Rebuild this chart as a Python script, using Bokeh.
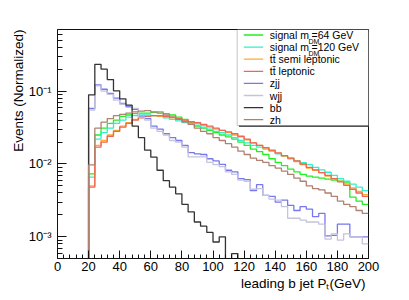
from bokeh.plotting import figure
from bokeh.models import Range1d, FixedTicker, Label, BoxAnnotation, Arrow, Title
from bokeh.embed import file_html
from bokeh.resources import INLINE

# ---------------- data ----------------
bin_edges = list(range(20, 201, 4))          # 45 bins of 4 GeV, 20..200

signal_64 = [0.0073, 0.025, 0.031, 0.036, 0.040, 0.045, 0.047, 0.049, 0.050, 0.050,
             0.051, 0.052, 0.049, 0.047, 0.044, 0.041, 0.037, 0.033, 0.031, 0.029,
             0.027, 0.025, 0.0235, 0.022, 0.020, 0.018, 0.0160, 0.0148, 0.0135, 0.0118,
             0.0105, 0.0095, 0.0085, 0.0078, 0.0072, 0.0068, 0.0066, 0.0064, 0.0062, 0.0060,
             0.0058, 0.0055, 0.0035, 0.0031, 0.0028]
signal_120 = [0.0066, 0.022, 0.027, 0.031, 0.036, 0.040, 0.044, 0.046, 0.047, 0.047,
              0.046, 0.045, 0.043, 0.041, 0.039, 0.037, 0.036, 0.034, 0.032, 0.030,
              0.028, 0.027, 0.025, 0.023, 0.021, 0.0195, 0.018, 0.017, 0.016, 0.015,
              0.0138, 0.0128, 0.0120, 0.0110, 0.0104, 0.0098, 0.0090, 0.0083, 0.0077, 0.0070,
              0.0063, 0.0058, 0.0053, 0.0048, 0.0043]
tt_semi = [0.0050, 0.018, 0.021, 0.025, 0.029, 0.033, 0.037, 0.041, 0.044, 0.045,
           0.046, 0.045, 0.044, 0.043, 0.042, 0.040, 0.038, 0.036, 0.034, 0.032,
           0.030, 0.029, 0.027, 0.025, 0.0235, 0.0215, 0.0195, 0.018, 0.0165, 0.0152,
           0.0140, 0.0128, 0.0118, 0.0108, 0.0098, 0.0088, 0.0082, 0.0076, 0.0068, 0.0062,
           0.0058, 0.0053, 0.0047, 0.0042, 0.0038]
tt_lep = [0.0048, 0.017, 0.020, 0.024, 0.028, 0.032, 0.036, 0.040, 0.043, 0.045,
          0.046, 0.046, 0.045, 0.044, 0.042, 0.040, 0.038, 0.037, 0.035, 0.033,
          0.031, 0.029, 0.0275, 0.026, 0.024, 0.022, 0.0195, 0.018, 0.0168, 0.0155,
          0.0142, 0.0130, 0.0120, 0.0110, 0.0100, 0.0090, 0.0083, 0.0076, 0.0070, 0.0063,
          0.0057, 0.0051, 0.0045, 0.0040, 0.0036]
zjj = [0.058, 0.122, 0.106, 0.093, 0.080, 0.068, 0.061, 0.056, 0.045, 0.042,
       0.033, 0.030, 0.026, 0.023, 0.021, 0.018, 0.0143, 0.0138, 0.0135, 0.0118,
       0.0110, 0.0099, 0.0082, 0.0078, 0.0063, 0.0061, 0.0043, 0.0052, 0.0037, 0.0036,
       0.0030, 0.0032, 0.0027, 0.0023, 0.0026, 0.0024, 0.0019, 0.0021, 0.00103, 0.00105,
       0.0015, 0.0015, 0.0010, 0.0010, 0.0010]
wjj = [0.055, 0.118, 0.100, 0.090, 0.075, 0.066, 0.063, 0.058, 0.044, 0.040,
       0.031, 0.028, 0.025, 0.021, 0.020, 0.017, 0.0125, 0.0125, 0.0125, 0.0105,
       0.0098, 0.0092, 0.0078, 0.0072, 0.0060, 0.0058, 0.0045, 0.0046, 0.0037, 0.0033,
       0.0032, 0.0026, 0.0018, 0.0018, 0.0017, 0.0016, 0.0016, 0.0015, 0.00093, 0.0011,
       0.0009, 0.0011, 0.0010, 0.0010, 0.0008]
bb = [0.089, 0.233, 0.200, 0.144, 0.101, 0.078, 0.064, 0.033, 0.023, 0.0155,
      0.0124, 0.0082, 0.0059, 0.0048, 0.0039, 0.0028, 0.0022, 0.0016, 0.0014, 0.00115,
      0.00085, 0.0010, 0, 0.00059, 0, 0, 0, 0, 0, 0,
      0, 0, 0, 0, 0, 0, 0, 0, 0, 0,
      0, 0, 0, 0, 0]
zh = [0.0097, 0.031, 0.0375, 0.042, 0.046, 0.048, 0.050, 0.052, 0.053, 0.054,
      0.052, 0.050, 0.047, 0.044, 0.041, 0.038, 0.035, 0.031, 0.028, 0.026,
      0.023, 0.021, 0.019, 0.017, 0.015, 0.0135, 0.0120, 0.0112, 0.0105, 0.0095,
      0.0088, 0.0080, 0.0072, 0.0064, 0.0058, 0.0050, 0.0046, 0.0044, 0.0040, 0.0036,
      0.0031, 0.0028, 0.0026, 0.0023, 0.0021]

series = [
    ("signal_64", signal_64, "#22ee22"),
    ("signal_120", signal_120, "#33eecc"),
    ("tt_semi", tt_semi, "#ffaa33"),
    ("tt_lep", tt_lep, "#ee6655"),
    ("zjj", zjj, "#7777ee"),
    ("wjj", wjj, "#c4c4dd"),
    ("bb", bb, "#333333"),
    ("zh", zh, "#b08070"),
]
legend_text = [None, None, "tt\u0304 semi leptonic", "tt\u0304 leptonic",
               "zjj", "wjj", "bb\u0304", "zh"]
mass_text = ["=64 GeV", "=120 GeV"]

x_ticks = [0, 20, 40, 60, 80, 100, 120, 140, 160, 180, 200]
y_ticks = [1e-3, 1e-2, 1e-1]
y_tick_labels = {1e-3: "10\u207b\u00b3", 1e-2: "10\u207b\u00b2", 1e-1: "10\u207b\u00b9"}
x_title = "leading b jet P\u209c(GeV)"
y_title = "Events (Normalized)"

FONT = "Liberation Sans"
FLOOR = 1e-7

# ---------------- figure ----------------
p = figure(frame_width=311, frame_height=229,
           min_border_left=57, min_border_right=33, min_border_top=29, min_border_bottom=34,
           x_range=Range1d(0, 200), y_range=Range1d(5.05e-4, 0.70),
           y_axis_type="log", output_backend="svg", toolbar_location=None,
           background_fill_color="white", border_fill_color="white")
p.grid.visible = False
p.outline_line_color = "#111111"
p.outline_line_width = 1

minor_x = [v for v in range(0, 201, 4)]
minor_y = [m * 10.0 ** e for e in (-4, -3, -2, -1) for m in range(2, 10)]
p.xaxis.ticker = FixedTicker(ticks=x_ticks, minor_ticks=minor_x)
p.yaxis.ticker = FixedTicker(ticks=y_ticks, minor_ticks=minor_y)
p.yaxis.major_label_overrides = y_tick_labels

for ax in (p.xaxis, p.yaxis):
    ax.axis_line_color = "#111111"
    ax.major_tick_line_color = "#111111"
    ax.minor_tick_line_color = "#111111"
    ax.major_tick_out = 0
    ax.minor_tick_out = 0
    ax.major_label_text_font = FONT
    ax.major_label_text_font_size = "13px"
    ax.major_label_text_color = "black"
p.xaxis.major_tick_in = 8
p.xaxis.minor_tick_in = 4
p.yaxis.major_tick_in = 9
p.yaxis.minor_tick_in = 5
p.xaxis.major_label_standoff = 3
p.yaxis.major_label_standoff = 6

# axis titles, ROOT style: aligned to the far end of each axis
p.add_layout(Title(text=x_title, align="right", offset=3, standoff=0,
                   text_font=FONT, text_font_size="13.5px", text_font_style="normal",
                   text_color="black"), "below")
p.add_layout(Title(text=y_title, align="right", offset=0, standoff=0,
                   text_font=FONT, text_font_size="13.5px", text_font_style="normal",
                   text_color="black"), "left")

# ---------------- histograms ----------------
for name, vals, col in series:
    ys = [FLOOR] + [v if v > 0 else FLOOR for v in vals] + [vals[-1] if vals[-1] > 0 else FLOOR]
    xs = [bin_edges[0]] + bin_edges
    p.step(x=xs, y=ys, mode="after", line_color=col, line_width=1.3)

# ---------------- legend (drawn by hand, ROOT style) ----------------
p.add_layout(BoxAnnotation(left=181.5, right=312.5, top=227, bottom=131.5,
                           left_units="screen", right_units="screen",
                           top_units="screen", bottom_units="screen",
                           fill_color="#555555", fill_alpha=1.0, line_alpha=0))
p.add_layout(BoxAnnotation(left=179.7, right=311, top=229, bottom=133,
                           left_units="screen", right_units="screen",
                           top_units="screen", bottom_units="screen",
                           fill_color="white", fill_alpha=1.0,
                           line_color="#444444", line_width=1))

row_y = [223.5, 211.4, 199.3, 187.2, 175.1, 163.0, 150.9, 138.8]
for i, (name, vals, col) in enumerate(series):
    y = row_y[i]
    p.add_layout(Arrow(x_start=186.3, y_start=y, x_end=205.7, y_end=y,
                       start_units="screen", end_units="screen",
                       start=None, end=None, line_color=col, line_width=1.3))
    if i < 2:
        p.add_layout(Label(x=212.3, y=y, x_units="screen", y_units="screen",
                           text="signal m", text_font=FONT, text_font_size="10.5px",
                           text_baseline="middle", text_color="black"))
        p.add_layout(Label(x=251, y=y - 6.5, x_units="screen", y_units="screen",
                           text="DM", text_font=FONT, text_font_size="7px",
                           text_baseline="middle", text_color="black"))
        p.add_layout(Label(x=254, y=y, x_units="screen", y_units="screen",
                           text=mass_text[i], text_font=FONT, text_font_size="10.5px",
                           text_baseline="middle", text_color="black"))
    else:
        p.add_layout(Label(x=212.3, y=y, x_units="screen", y_units="screen",
                           text=legend_text[i], text_font=FONT, text_font_size="10.5px",
                           text_baseline="middle", text_color="black"))

open("out.html", "w").write(file_html(p, INLINE))
